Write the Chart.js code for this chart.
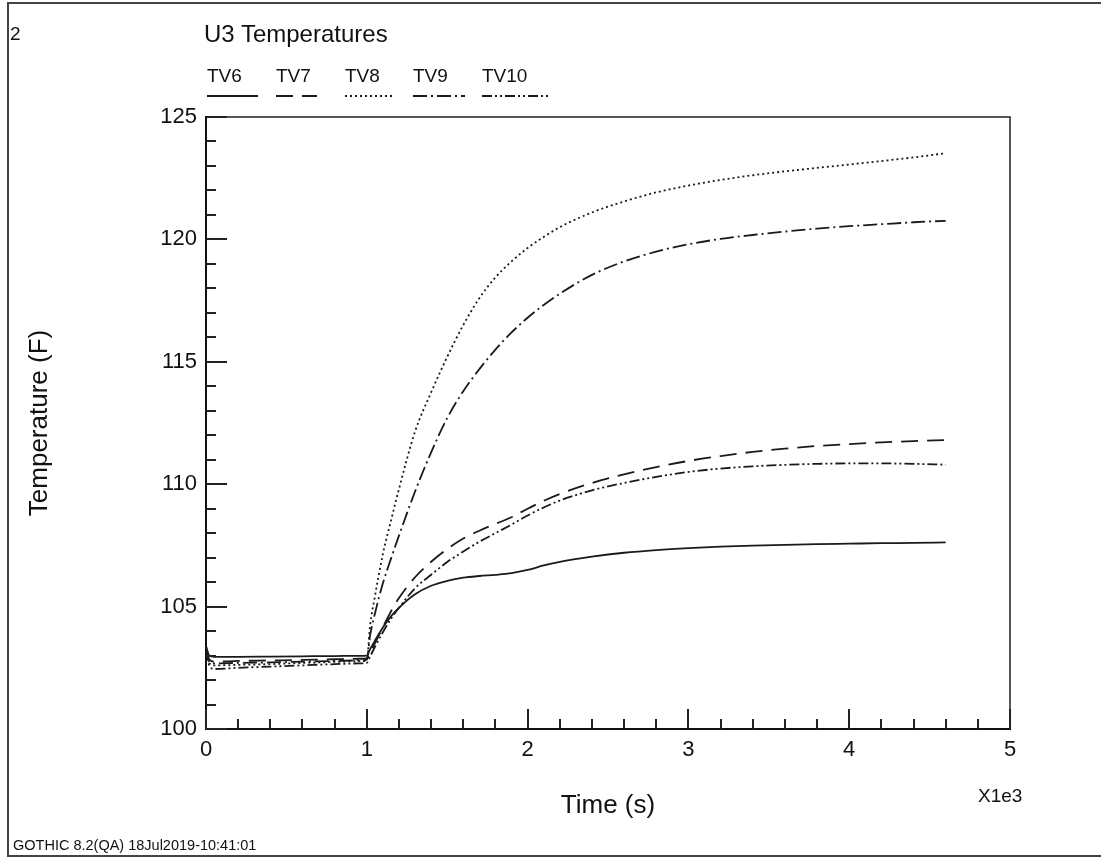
<!DOCTYPE html>
<html><head><meta charset="utf-8">
<script src="https://cdn.jsdelivr.net/npm/chart.js@4.4.1/dist/chart.umd.min.js"></script>
<style>
body{margin:0;background:#fff;}
#wrap{position:relative;width:1101px;height:857px;overflow:hidden;font-family:"Liberation Sans",Arial,sans-serif;color:#111;background:#fff;}
#c{position:absolute;left:0;top:0;}
.t{position:absolute;white-space:nowrap;line-height:1;}
#frame{position:absolute;left:7px;top:2px;width:1100px;height:851px;border-left:2px solid #444;border-top:2px solid #444;border-bottom:2px solid #444;}
.lg{position:absolute;top:66px;}
.lg span{display:block;font-size:19px;line-height:1;}
.lg svg{position:absolute;left:0;top:28px;}
</style></head><body>
<div id="wrap">
<canvas id="c" width="1101" height="857"></canvas>
<div id="frame"></div>
<div class="t" style="left:10px;top:24px;font-size:19px">2</div>
<div class="t" style="left:204px;top:22px;font-size:24px">U3 Temperatures</div>
<div id="legend"></div>
<div class="t" style="left:978px;top:786px;font-size:19px">X1e3</div>
<div class="t" style="left:13px;top:838px;font-size:14.5px">GOTHIC 8.2(QA) 18Jul2019-10:41:01</div>
</div>
<script>
// ---- data (time in units of 1e3 s, temperature in F) ----
const times = [0, 0.02, 0.05, 0.2, 0.4, 0.6, 0.8, 0.95, 1.0, 1.02, 1.05, 1.1, 1.15, 1.2, 1.3, 1.4, 1.5, 1.6, 1.7, 1.8, 1.9, 2.0, 2.1, 2.2, 2.4, 2.6, 2.8, 3.0, 3.2, 3.4, 3.6, 3.8, 4.0, 4.2, 4.4, 4.6];
const tv6  = [103.4, 103.0, 102.95, 102.95, 102.96, 102.97, 102.98, 102.99, 103.0, 103.25, 103.6, 104.15, 104.6, 104.95, 105.5, 105.85, 106.05, 106.18, 106.25, 106.3, 106.37, 106.5, 106.68, 106.83, 107.04, 107.2, 107.31, 107.39, 107.45, 107.49, 107.52, 107.55, 107.57, 107.59, 107.6, 107.62];
const tv7  = [103.3, 102.85, 102.75, 102.78, 102.8, 102.82, 102.85, 102.87, 102.88, 103.1, 103.5, 104.15, 104.8, 105.35, 106.2, 106.83, 107.35, 107.78, 108.1, 108.38, 108.65, 109.0, 109.32, 109.6, 110.05, 110.4, 110.7, 110.95, 111.15, 111.32, 111.45, 111.56, 111.64, 111.71, 111.76, 111.8];
const tv8  = [103.3, 102.7, 102.6, 102.62, 102.65, 102.7, 102.74, 102.77, 102.8, 104.2, 105.4, 107.15, 108.5, 109.8, 112.15, 113.75, 115.2, 116.5, 117.6, 118.45, 119.1, 119.65, 120.1, 120.5, 121.1, 121.55, 121.92, 122.2, 122.43, 122.62, 122.78, 122.92, 123.06, 123.2, 123.35, 123.52];
const tv9  = [103.3, 102.75, 102.68, 102.7, 102.72, 102.75, 102.78, 102.8, 102.82, 103.8, 104.7, 105.95, 106.95, 107.9, 109.7, 111.3, 112.7, 113.8, 114.7, 115.5, 116.2, 116.8, 117.32, 117.78, 118.55, 119.1, 119.5, 119.8, 120.02, 120.18, 120.32, 120.44, 120.54, 120.62, 120.7, 120.76];
const tv10 = [103.2, 102.6, 102.45, 102.5, 102.55, 102.6, 102.65, 102.68, 102.7, 102.95, 103.35, 103.95, 104.5, 104.95, 105.75, 106.3, 106.82, 107.25, 107.65, 108.0, 108.35, 108.72, 109.05, 109.33, 109.75, 110.05, 110.3, 110.5, 110.64, 110.73, 110.79, 110.83, 110.85, 110.85, 110.83, 110.8];
const seriesNames = ['TV6', 'TV7', 'TV8', 'TV9', 'TV10'];
const xTicks = [0, 1, 2, 3, 4, 5];
const yTicks = [100, 105, 110, 115, 120, 125];

// ---- styles ----
const seriesValues = [tv6, tv7, tv8, tv9, tv10];
const dashes = [[], [17, 9], [2, 3], [14, 4, 2, 4], [10, 3, 2, 3, 2, 3]];
const legendX = [207, 276, 345, 413, 482];
const legendW = [51, 41, 48, 52, 68];
const ink = '#1a1a1a';

// legend (HTML text)
const lg = document.getElementById('legend');
seriesNames.forEach((n, i) => {
  const d = document.createElement('div');
  d.className = 'lg';
  d.style.left = legendX[i] + 'px';
  const s = document.createElement('span'); s.textContent = n; d.appendChild(s);
  const svg = document.createElementNS('http://www.w3.org/2000/svg', 'svg');
  svg.setAttribute('width', legendW[i]); svg.setAttribute('height', 4);
  const l = document.createElementNS('http://www.w3.org/2000/svg', 'line');
  l.setAttribute('x1', 0); l.setAttribute('x2', legendW[i]); l.setAttribute('y1', 2); l.setAttribute('y2', 2);
  l.setAttribute('stroke', ink); l.setAttribute('stroke-width', 1.8);
  if (dashes[i].length) l.setAttribute('stroke-dasharray', dashes[i].join(' '));
  svg.appendChild(l); d.appendChild(svg); lg.appendChild(d);
});

const tickPlugin = {
  id: 'inTicks',
  afterDatasetsDraw(chart) {
    const {ctx, chartArea: a, scales: {x, y}} = chart;
    ctx.save();
    ctx.strokeStyle = '#222';
    ctx.lineWidth = 1.5;
    ctx.beginPath();
    ctx.moveTo(a.left, a.top); ctx.lineTo(a.right, a.top); ctx.lineTo(a.right, a.bottom);
    ctx.stroke();
    ctx.lineWidth = 2;
    ctx.beginPath();
    for (let k = 0; k <= 25; k++) {
      const v = x.min + k * 0.2;
      const px = Math.round(x.getPixelForValue(v));
      const len = (k % 5 === 0) ? 20 : 10;
      ctx.moveTo(px, a.bottom); ctx.lineTo(px, a.bottom - len);
    }
    for (let k = 0; k <= 25; k++) {
      const v = y.min + k;
      const py = Math.round(y.getPixelForValue(v));
      const len = (k % 5 === 0) ? 21 : 10;
      ctx.moveTo(a.left, py); ctx.lineTo(a.left + len, py);
    }
    ctx.stroke();
    ctx.restore();
  }
};

const font = {family: '"Liberation Sans", Arial, sans-serif', size: 22};
const titleFont = {family: '"Liberation Sans", Arial, sans-serif', size: 26};
new Chart(document.getElementById('c'), {
  type: 'line',
  data: {
    datasets: seriesValues.map((vals, i) => ({
      label: seriesNames[i],
      data: times.map((t, j) => ({x: t, y: vals[j]})),
      borderColor: ink,
      borderWidth: 1.8,
      borderDash: dashes[i],
      pointRadius: 0,
      fill: false,
      cubicInterpolationMode: 'monotone'
    }))
  },
  options: {
    responsive: false,
    animation: false,
    events: [],
    layout: {padding: {top: 117, right: 91, left: 0, bottom: 0}},
    plugins: {legend: {display: false}, title: {display: false}, tooltip: {enabled: false}},
    scales: {
      x: {
        type: 'linear', min: 0, max: 5,
        afterBuildTicks: s => { s.ticks = xTicks.map(v => ({value: v})); },
        ticks: {color: '#111', font, padding: 8, maxRotation: 0, autoSkip: false},
        grid: {display: false, drawTicks: false},
        border: {display: true, color: '#111', width: 2},
        title: {display: true, text: 'Time (s)', color: '#111', font: titleFont, padding: {top: 0, bottom: 36}},
        afterFit: s => { s.height = 128; }
      },
      y: {
        min: 100, max: 125,
        afterBuildTicks: s => { s.ticks = yTicks.map(v => ({value: v})); },
        ticks: {color: '#111', font, padding: 9},
        grid: {display: false, drawTicks: false},
        border: {display: true, color: '#111', width: 2},
        title: {display: true, text: 'Temperature (F)', color: '#111', font: titleFont, padding: {top: 24, bottom: 0}},
        afterFit: s => { s.width = 206; }
      }
    }
  },
  plugins: [tickPlugin]
});
</script>
</body></html>
